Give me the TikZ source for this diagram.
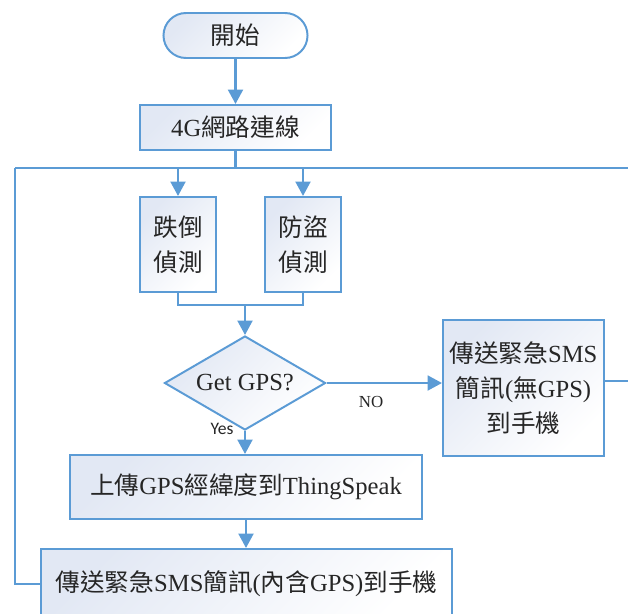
\documentclass[tikz,border=0pt]{standalone}
\usepackage{fontspec}
\setmainfont{Liberation Serif}
\newfontfamily\cjk{Noto Sans CJK TC}
\newfontfamily\yesfont{Carlito}
\usetikzlibrary{arrows.meta,shapes.geometric}
\newcommand{\zh}[1]{{\cjk #1}}
\definecolor{flowline}{HTML}{5B9BD5}
\definecolor{boxfill}{HTML}{E2E8F4}
\tikzset{
	box/.style={draw=flowline, line width=1.4pt, top color=boxfill, bottom color=white,
		shading angle=45, inner sep=0pt, align=center, text=black!85,
		font=\fontsize{17.5}{24.8}\selectfont},
	flow/.style={draw=flowline, line width=1.8pt},
	arr/.style={flow, -{Triangle[length=3.6mm, width=3.7mm]}}
}
\begin{document}
	\begin{tikzpicture}[x=0.025cm, y=-0.025cm]
		\clip (0,0) rectangle (628,613);
		\node[box, minimum width=3.6cm, minimum height=1.125cm, rounded corners=0.5625cm] (start) at (235.5,35.5) {\zh{開始}};
		\node[box, minimum width=4.75cm, minimum height=1.125cm] (net) at (235.5,127.5) {4G\zh{網路連線}};
		\node[box, minimum width=1.9cm, minimum height=2.375cm] (fall) at (178,244.5) {\zh{跌倒}\\\zh{偵測}};
		\node[box, minimum width=1.9cm, minimum height=2.375cm] (theft) at (303,244.5) {\zh{防盜}\\\zh{偵測}};
		\node[box, diamond, aspect=1.71, minimum width=4.025cm, minimum height=2.35cm] (gps) at (245,383) {Get GPS?};
		\node[box, minimum width=4.025cm, minimum height=3.4cm] (nogps) at (523.5,388) {\zh{傳送緊急}SMS\\\zh{簡訊}(\zh{無}GPS)\\\zh{到手機}};
		\node[box, minimum width=8.8cm, minimum height=1.6cm] (upload) at (246,487) {\zh{上傳}GPS\zh{經緯度到}ThingSpeak};
		\node[box, minimum width=10.275cm, minimum height=1.75cm] (sms) at (246.5,584) {\zh{傳送緊急}SMS\zh{簡訊}(\zh{內含}GPS)\zh{到手機}};
		
		\coordinate (busL) at (15,168);
		\coordinate (busR) at (628,168);
		\coordinate (join) at (245,305);
		\coordinate (outR) at (628,381);
		
		\draw[arr] (start.south) -- (net.north);
		\draw[flow] (net.south) -- (net.south |- busL);
		\draw[flow] (busL) -- (busR);
		\foreach \n in {fall,theft}{
			\draw[arr] (\n.north |- busL) -- (\n.north);
		}
		\draw[flow] (fall.south) |- (join) -| (theft.south);
		\draw[arr] (join) -- (gps.north);
		\draw[arr] (gps.east) -- (gps.east -| nogps.west);
		\draw[flow] (nogps.east |- outR) -- (outR);
		\draw[arr] (gps.south) -- (gps.south |- upload.north);
		\draw[arr] (upload.south) -- (upload.south |- sms.north);
		\draw[flow] (sms.west) -- (busL |- sms.west) -- (busL);
		
		\node[font=\fontsize{12}{14}\selectfont, text=black!85] (nolabel) at (371,402) {NO};
		\node[font=\yesfont\fontsize{12.5}{14}\selectfont, text=black!85] (yeslabel) at (222,429) {Yes};
	\end{tikzpicture}
\end{document}
